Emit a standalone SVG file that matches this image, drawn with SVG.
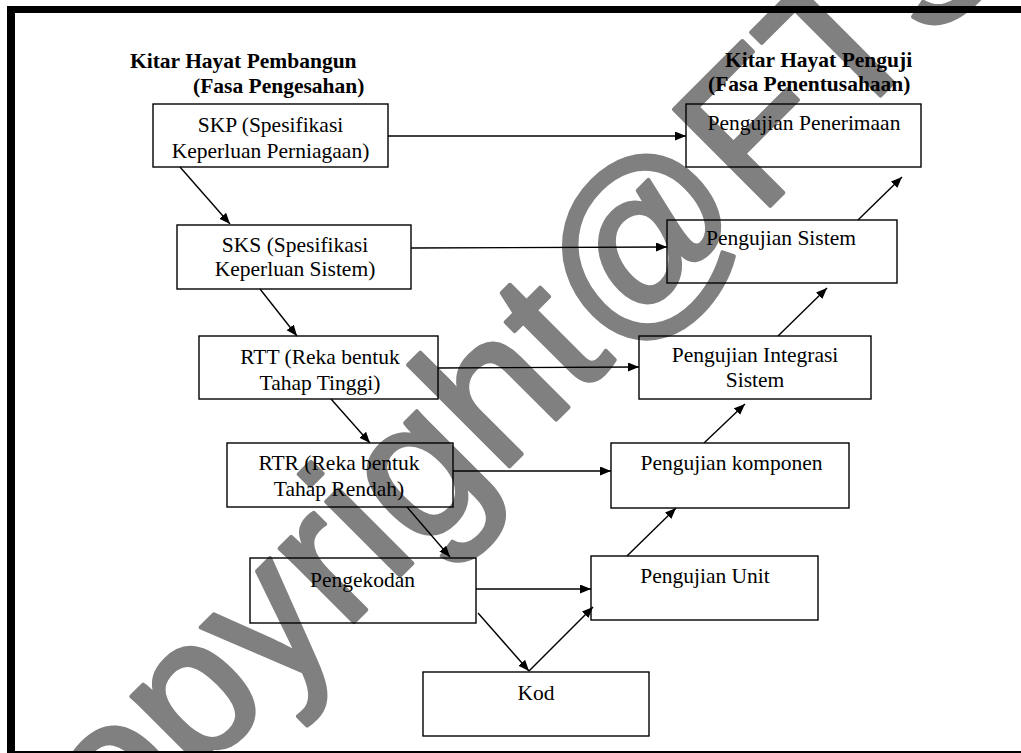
<svg xmlns="http://www.w3.org/2000/svg" width="1021" height="753" viewBox="0 0 1021 753">
<style>
.box{fill:none;stroke:#000;stroke-width:1.4}
.t{font-family:"Liberation Serif","Times New Roman",serif;font-size:21.5px;fill:#000;text-anchor:middle}
.h{font-family:"Liberation Serif","Times New Roman",serif;font-size:21.5px;font-weight:bold;fill:#000}
.c{stroke:#000;stroke-width:1.4;fill:none;marker-end:url(#ah)}
.wm{font-family:"Liberation Sans",Arial,sans-serif;font-size:198px;fill:#808080;stroke:#808080;stroke-width:4;stroke-linejoin:round}
</style>
<defs>
<marker id="ah" markerUnits="userSpaceOnUse" markerWidth="12" markerHeight="10" refX="11" refY="4.5" orient="auto">
<path d="M0,0 L11,4.5 L0,9 z" fill="#000"/>
</marker>
</defs>
<rect width="1021" height="753" fill="#fff"/>
<g id="watermark" transform="translate(651,252) rotate(-45)">
<text class="wm" x="-903.7" y="51.5">copyright@FTS</text>
</g>
<g id="frame">
<rect x="7" y="6" width="1014" height="7" fill="#000"/>
<rect x="7" y="6" width="8" height="747" fill="#000"/>
<rect x="7" y="751" width="1014" height="2" fill="#000"/>
</g>
<g id="titles">
<text class="h" x="130" y="68">Kitar Hayat Pembangun</text>
<text class="h" x="193" y="93">(Fasa Pengesahan)</text>
<text class="h" x="725" y="67">Kitar Hayat Penguji</text>
<text class="h" x="708" y="91">(Fasa Penentusahaan)</text>
</g>
<g id="connectors">
<line class="c" x1="388" y1="136" x2="686" y2="136"/>
<line class="c" x1="180" y1="167" x2="230" y2="224"/>
<line class="c" x1="411" y1="248" x2="667" y2="247"/>
<line class="c" x1="260" y1="289" x2="297" y2="336"/>
<line class="c" x1="438" y1="368" x2="639" y2="367"/>
<line class="c" x1="331" y1="399" x2="370" y2="443"/>
<line class="c" x1="453" y1="471" x2="611" y2="471"/>
<line class="c" x1="407" y1="507" x2="450" y2="557"/>
<line class="c" x1="476" y1="589" x2="591" y2="589"/>
<line class="c" x1="478" y1="613" x2="529" y2="671"/>
<line class="c" x1="529" y1="671" x2="593" y2="607"/>
<line class="c" x1="627" y1="556" x2="676" y2="508"/>
<line class="c" x1="704" y1="443" x2="745" y2="404"/>
<line class="c" x1="778" y1="336" x2="827" y2="288"/>
<line class="c" x1="858" y1="220" x2="902" y2="177"/>
</g>
<g id="skp">
<rect class="box" x="153" y="104" width="235" height="63"/>
<text class="t" x="270.5" y="132">SKP (Spesifikasi</text>
<text class="t" x="270.5" y="158">Keperluan Perniagaan)</text>
</g>
<g id="sks">
<rect class="box" x="177" y="225" width="234" height="64"/>
<text class="t" x="295" y="252">SKS (Spesifikasi</text>
<text class="t" x="295" y="276">Keperluan Sistem)</text>
</g>
<g id="rtt">
<rect class="box" x="199" y="336" width="239" height="63"/>
<text class="t" x="320" y="364">RTT (Reka bentuk</text>
<text class="t" x="320" y="390">Tahap Tinggi)</text>
</g>
<g id="rtr">
<rect class="box" x="227" y="443" width="226" height="64"/>
<text class="t" x="339" y="470">RTR (Reka bentuk</text>
<text class="t" x="339" y="496">Tahap Rendah)</text>
</g>
<g id="pengekodan">
<rect class="box" x="250" y="558" width="226" height="65"/>
<text class="t" x="362.5" y="587">Pengekodan</text>
</g>
<g id="kod">
<rect class="box" x="423" y="672" width="226" height="64"/>
<text class="t" x="536" y="700">Kod</text>
</g>
<g id="unit">
<rect class="box" x="591" y="556" width="227" height="64"/>
<text class="t" x="705" y="583">Pengujian Unit</text>
</g>
<g id="komponen">
<rect class="box" x="611" y="443" width="238" height="65"/>
<text class="t" x="731.5" y="470">Pengujian komponen</text>
</g>
<g id="integrasi">
<rect class="box" x="639" y="336" width="232" height="63"/>
<text class="t" x="755" y="362">Pengujian Integrasi</text>
<text class="t" x="755" y="387">Sistem</text>
</g>
<g id="sistem">
<rect class="box" x="667" y="220" width="230" height="63"/>
<text class="t" x="781" y="245">Pengujian Sistem</text>
</g>
<g id="penerimaan">
<rect class="box" x="686" y="104" width="235" height="63"/>
<text class="t" x="804" y="130">Pengujian Penerimaan</text>
</g>
</svg>
